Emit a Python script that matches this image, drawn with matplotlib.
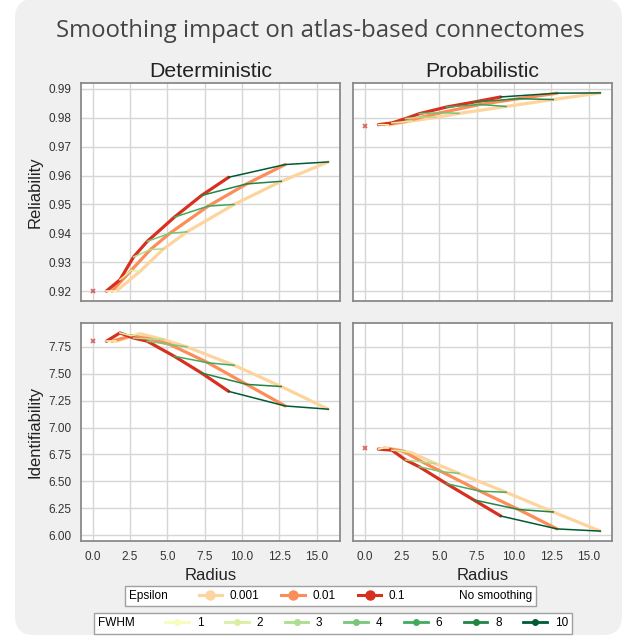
import matplotlib
matplotlib.use('Agg')
import matplotlib.pyplot as plt
from matplotlib.lines import Line2D
from matplotlib.patches import FancyBboxPatch
from matplotlib.offsetbox import HPacker
from matplotlib.ticker import MultipleLocator, FormatStrFormatter

# ---------------- data ----------------
epsilons = ['0.001', '0.01', '0.1']
fwhm = [1, 2, 3, 4, 6, 8, 10]

radius_e0001 = [1.58, 3.16, 4.74, 6.31, 9.47, 12.63, 15.78]
radius_e001 = [1.29, 2.58, 3.87, 5.16, 7.73, 10.31, 12.89]
radius_e01 = [0.91, 1.82, 2.73, 3.65, 5.47, 7.29, 9.11]

det_rel_e0001 = [0.9200, 0.9268, 0.9346, 0.9405, 0.9500, 0.9580, 0.9647]
det_rel_e001 = [0.9200, 0.9272, 0.9344, 0.9400, 0.9494, 0.9571, 0.9638]
det_rel_e01 = [0.9200, 0.9239, 0.9318, 0.9372, 0.9456, 0.9531, 0.9594]

prob_rel_e0001 = [0.9775, 0.9789, 0.9801, 0.9815, 0.9839, 0.9863, 0.9886]
prob_rel_e001 = [0.9776, 0.9786, 0.9803, 0.9818, 0.9846, 0.9866, 0.9885]
prob_rel_e01 = [0.9776, 0.9782, 0.9797, 0.9814, 0.9837, 0.9854, 0.9872]

det_id_e0001 = [7.80, 7.87, 7.815, 7.747, 7.577, 7.38, 7.17]
det_id_e001 = [7.80, 7.85, 7.82, 7.77, 7.60, 7.40, 7.20]
det_id_e01 = [7.80, 7.877, 7.83, 7.80, 7.66, 7.505, 7.335]

prob_id_e0001 = [6.81, 6.765, 6.665, 6.575, 6.40, 6.217, 6.04]
prob_id_e001 = [6.81, 6.78, 6.68, 6.59, 6.41, 6.24, 6.06]
prob_id_e01 = [6.80, 6.79, 6.70, 6.636, 6.48, 6.33, 6.18]

nosmooth_det_rel = 0.920
nosmooth_prob_rel = 0.9773
nosmooth_det_id = 7.80
nosmooth_prob_id = 6.809

# ---------------- style ----------------
eps_colors = ['#fdd49e', '#fc8d59', '#d7301f']
fwhm_colors = ['#f7fcb9', '#d9f0a3', '#addd8e', '#78c679', '#41ab5d', '#238443', '#005a32']
TXT = 'Liberation Sans'

fig = plt.figure(figsize=(6.22, 6.4), dpi=100)
fig.patch.set_facecolor('white')
W, H = 622, 640
panel = FancyBboxPatch((15 / W, 5 / H), (607) / W, (636) / H,
                       boxstyle='round,pad=0,rounding_size=0.03',
                       transform=fig.transFigure, facecolor='#f0f0f0',
                       edgecolor='none', zorder=-10)
fig.patches.append(panel)

def fx(px):
    return px / W

def fy(py):
    return 1 - py / H

pos = {
    (0, 0): [fx(81), fy(301), fx(340) - fx(81), fy(83) - fy(301)],
    (0, 1): [fx(353), fy(301), fx(612) - fx(353), fy(83) - fy(301)],
    (1, 0): [fx(81), fy(541), fx(340) - fx(81), fy(323) - fy(541)],
    (1, 1): [fx(353), fy(541), fx(612) - fx(353), fy(323) - fy(541)],
}
ax00 = fig.add_axes(pos[(0, 0)])
ax01 = fig.add_axes(pos[(0, 1)], sharex=ax00, sharey=ax00)
ax10 = fig.add_axes(pos[(1, 0)], sharex=ax00)
ax11 = fig.add_axes(pos[(1, 1)], sharex=ax00, sharey=ax10)

radii = [radius_e0001, radius_e001, radius_e01]
panels = [
    (ax00, [det_rel_e0001, det_rel_e001, det_rel_e01], nosmooth_det_rel),
    (ax01, [prob_rel_e0001, prob_rel_e001, prob_rel_e01], nosmooth_prob_rel),
    (ax10, [det_id_e0001, det_id_e001, det_id_e01], nosmooth_det_id),
    (ax11, [prob_id_e0001, prob_id_e001, prob_id_e01], nosmooth_prob_id),
]

for ax, series, ns in panels:
    ax.set_facecolor('white')
    for i, (xs, ys) in enumerate(zip(radii, series)):
        ax.plot(xs, ys, color=eps_colors[i], lw=2.3, zorder=3 + i * 0.1,
                solid_capstyle='round')
    for j, f in enumerate(fwhm):
        xs = [radii[2][j], radii[1][j], radii[0][j]]
        ys = [series[2][j], series[1][j], series[0][j]]
        ax.plot(xs, ys, color=fwhm_colors[j], lw=1.1, zorder=4)
    ax.plot([0], [ns], marker='x', color='#d63a3a', alpha=0.75, ms=3.5, mew=1.3,
            ls='none', zorder=5)
    ax.grid(True, color='#d6d6d6', lw=1)
    ax.set_axisbelow(True)
    for s in ax.spines.values():
        s.set_color('#8a8a8a')
        s.set_linewidth(1.3)
    ax.tick_params(length=0, labelsize=8.5, labelcolor='#333333', pad=7)

ax00.xaxis.set_major_locator(MultipleLocator(2.5))
ax00.yaxis.set_major_locator(MultipleLocator(0.01))
ax10.yaxis.set_major_locator(MultipleLocator(0.25))
ax00.yaxis.set_major_formatter(FormatStrFormatter('%.2f'))
ax10.yaxis.set_major_formatter(FormatStrFormatter('%.2f'))
ax10.xaxis.set_major_formatter(FormatStrFormatter('%.1f'))

ax00.tick_params(labelbottom=False)
ax01.tick_params(labelbottom=False, labelleft=False)
ax11.tick_params(labelleft=False)

for ax in (ax00, ax01, ax10, ax11):
    for lab in ax.get_xticklabels() + ax.get_yticklabels():
        lab.set_fontfamily(TXT)

ax00.set_title('Deterministic', fontsize=15.3, family=TXT, color='#222222', pad=4)
ax01.set_title('Probabilistic', fontsize=15.3, family=TXT, color='#222222', pad=4)
ax00.set_ylabel('Reliability', fontsize=12, family=TXT, color='#222222', labelpad=4)
ax10.set_ylabel('Identifiability', fontsize=12, family=TXT, color='#222222', labelpad=4)
ax10.set_xlabel('Radius', fontsize=12, family=TXT, color='#222222', labelpad=4)
ax11.set_xlabel('Radius', fontsize=12, family=TXT, color='#222222', labelpad=4)

fig.text(fx(320), fy(31), 'Smoothing impact on atlas-based connectomes',
         ha='center', va='center', fontsize=17.2, family='Open Sans', color='#444444')

# ---------------- legends ----------------
def side_title(leg, sep):
    fs = leg._fontsize
    box = HPacker(pad=leg.borderpad * fs, sep=sep, align='center',
                  children=[leg._legend_title_box, leg._legend_handle_box])
    box.set_figure(fig)
    box.axes = leg.axes
    leg._legend_box = box
    leg._set_loc(leg._loc)

LEG_FS = 8.5
eps_handles = [Line2D([], [], color=c, lw=2.2, marker='o', ms=6.5) for c in eps_colors]
eps_handles.append(Line2D([], [], color='none', lw=0))
eps_labels = epsilons + ['No smoothing']
leg1 = fig.legend(eps_handles, eps_labels, loc='center',
                  bbox_to_anchor=(fx(330.5), fy(596)), ncol=4, title='Epsilon',
                  title_fontsize=LEG_FS, frameon=True, fancybox=False,
                  edgecolor='#a0a0a0', facecolor='white', framealpha=1,
                  handlelength=2.0, handletextpad=0.65, columnspacing=1.85,
                  borderpad=0.35, prop={'family': TXT, 'size': LEG_FS})
leg1.get_frame().set_linewidth(1.0)
leg1.get_title().set_fontfamily(TXT)
side_title(leg1, 22)

fw_handles = [Line2D([], [], color=c, lw=2.0, marker='o', ms=4) for c in fwhm_colors]
fw_labels = [str(f) for f in fwhm]
leg2 = fig.legend(fw_handles, fw_labels, loc='center',
                  bbox_to_anchor=(fx(333), fy(623.5)), ncol=7, title='FWHM',
                  title_fontsize=LEG_FS, frameon=True, fancybox=False,
                  edgecolor='#a0a0a0', facecolor='white', framealpha=1,
                  handlelength=2.0, handletextpad=0.65, columnspacing=1.85,
                  borderpad=0.35, prop={'family': TXT, 'size': LEG_FS})
leg2.get_frame().set_linewidth(1.0)
leg2.get_title().set_fontfamily(TXT)
side_title(leg2, 22)

fig.savefig('out.png', dpi=100, facecolor='white')
